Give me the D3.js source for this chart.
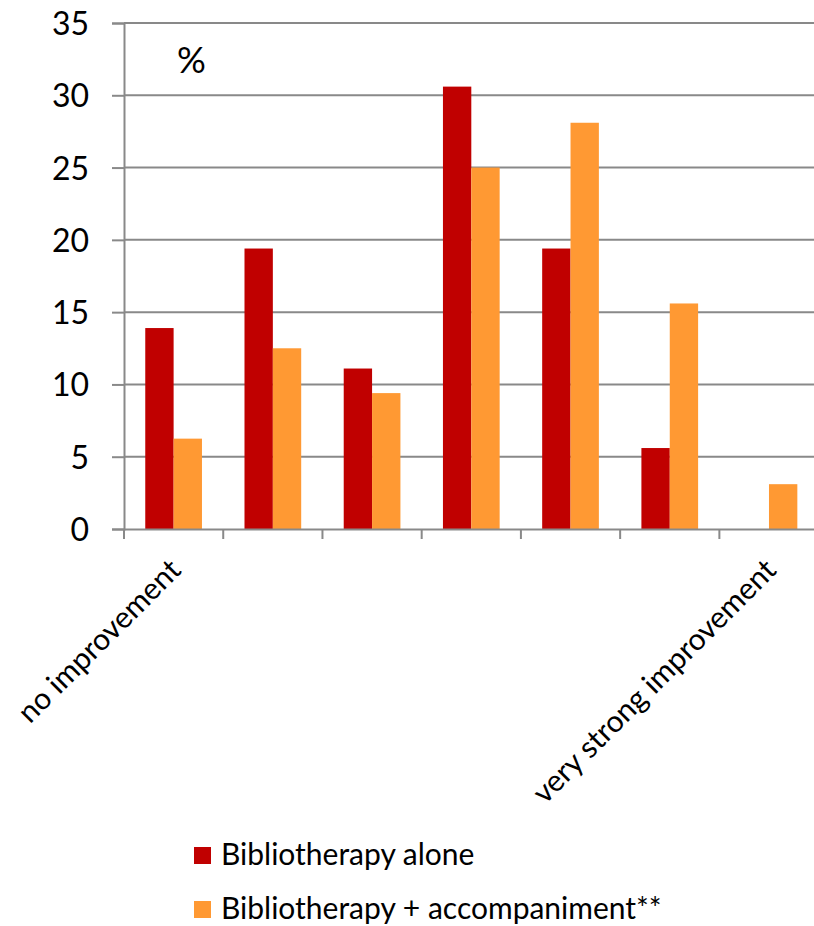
<!DOCTYPE html>
<html>
<head>
<meta charset="utf-8">
<script src="https://cdn.jsdelivr.net/npm/d3@7/dist/d3.min.js"></script>
<style>
  html, body { margin: 0; padding: 0; background: #fff; }
  svg { display: block; }
  text { font-family: Lato, "Liberation Sans", sans-serif; fill: #000; }
</style>
</head>
<body>
<svg id="chart" width="814" height="926"></svg>
<script>
// ---- data ----
const categories = ["c1", "c2", "c3", "c4", "c5", "c6", "c7"];
const categoryLabels = ["no improvement", "", "", "", "", "", "very strong improvement"];
const seriesNames = ["Bibliotherapy alone", "Bibliotherapy + accompaniment**"];
const aloneValues = [13.9, 19.4, 11.1, 30.6, 19.4, 5.6, 0];
const accompValues = [6.25, 12.5, 9.4, 25.0, 28.1, 15.6, 3.1];
const yTicks = [0, 5, 10, 15, 20, 25, 30, 35];
const unitLabel = "%";
const colors = ["#C00000", "#FF9933"];

// ---- layout ----
const svg = d3.select("#chart");
const plotLeft = 124, plotRight = 818.6, plotTop = 23, plotBottom = 529;
const fontSize = 30;
const gridColor = "#898989";

const x0 = d3.scaleBand().domain(categories).range([plotLeft, plotRight]).paddingInner(0).paddingOuter(0);
const x1 = d3.scaleBand().domain(seriesNames).range([0, x0.bandwidth()]).paddingInner(0).paddingOuter(0.75);
const y = d3.scaleLinear().domain([0, 35]).range([plotBottom, plotTop]);

// gridlines + y axis
const yAxis = d3.axisLeft(y).tickValues(yTicks).tickSize(12).tickPadding(23);
const gy = svg.append("g").attr("transform", `translate(${plotLeft},0)`).call(yAxis);
gy.select(".domain").attr("stroke", gridColor).attr("stroke-width", 2);
gy.selectAll(".tick line").attr("stroke", gridColor).attr("stroke-width", 2);
gy.selectAll(".tick text").attr("font-size", 32).attr("font-family", "Lato, 'Liberation Sans', sans-serif").attr("fill", "#000").attr("dy", "0.36em");

svg.append("g").selectAll("line").data(yTicks.filter(d => d > 0)).join("line")
  .attr("x1", plotLeft).attr("x2", plotRight)
  .attr("y1", d => y(d)).attr("y2", d => y(d))
  .attr("stroke", gridColor).attr("stroke-width", 2);

// bars
const series = [aloneValues, accompValues];
const groups = svg.append("g").selectAll("g").data(categories).join("g")
  .attr("transform", d => `translate(${x0(d)},0)`);
groups.selectAll("rect")
  .data((d, i) => seriesNames.map((s, j) => ({ s, v: series[j][i], j })))
  .join("rect")
  .attr("x", d => x1(d.s))
  .attr("width", x1.bandwidth())
  .attr("y", d => y(d.v))
  .attr("height", d => y(0) - y(d.v))
  .attr("fill", d => colors[d.j]);

// x axis
const xAxis = d3.axisBottom(x0).tickSize(0).tickFormat("");
const gx = svg.append("g").attr("transform", `translate(0,${plotBottom})`).call(xAxis);
gx.select(".domain").attr("stroke", gridColor).attr("stroke-width", 2);
// category boundary ticks
const boundaries = categories.map(c => x0(c)).concat([plotRight]);
gx.selectAll("line.bt").data(boundaries).join("line").attr("class", "bt")
  .attr("x1", d => d).attr("x2", d => d).attr("y1", 0).attr("y2", 10)
  .attr("stroke", gridColor).attr("stroke-width", 2);

// rotated category labels
svg.append("g").selectAll("text").data(categories).join("text")
  .attr("transform", (d, i) => `translate(${x0(d) + x0.bandwidth() / 2 + 9},${plotBottom + 43}) rotate(-45)`)
  .attr("text-anchor", "end")
  .attr("font-size", fontSize)
  .text((d, i) => categoryLabels[i]);

// unit label
svg.append("text").attr("x", 177).attr("y", 73).attr("font-size", 36).text(unitLabel);

// legend
const legend = svg.append("g").selectAll("g").data(seriesNames).join("g")
  .attr("transform", (d, i) => `translate(194,${847 + i * 54})`);
legend.append("rect").attr("width", 17).attr("height", 17).attr("fill", (d, i) => colors[i]);
legend.append("text").attr("x", 27).attr("y", 18).attr("font-size", fontSize).text(d => d);
</script>
</body>
</html>
